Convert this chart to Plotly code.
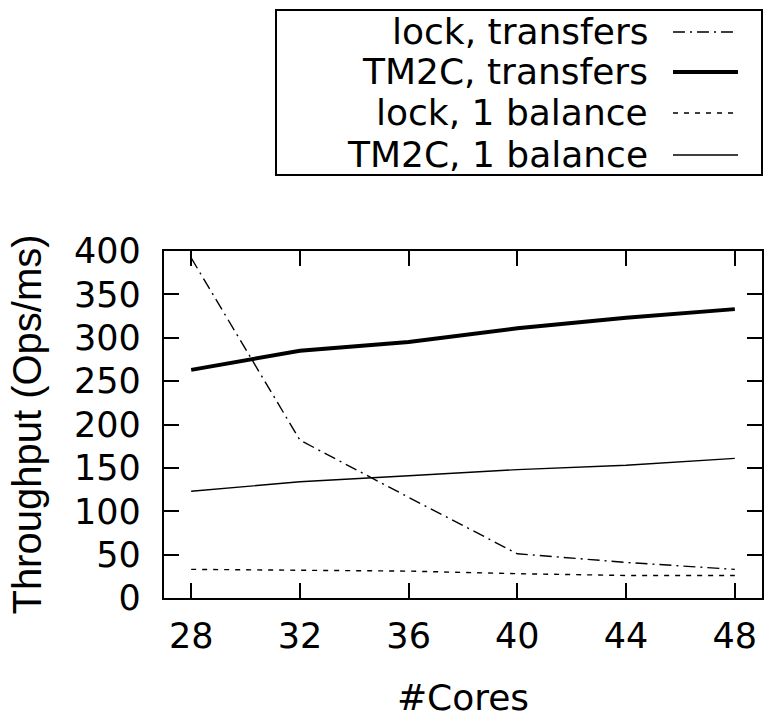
import plotly.graph_objects as go

cores = [28, 32, 36, 40, 44, 48]
lock_transfers = [392, 182, 116, 51, 41, 33]
tm2c_transfers = [263, 285, 295, 311, 323, 333]
lock_balance = [33, 32, 31, 28, 26, 26]
tm2c_balance = [123, 134, 141, 148, 153, 161]
series_names = ["lock, transfers", "TM2C, transfers", "lock, 1 balance", "TM2C, 1 balance"]
x_ticks = [28, 32, 36, 40, 44, 48]
y_ticks = [0, 50, 100, 150, 200, 250, 300, 350, 400]

styles = [
    dict(color="black", width=1.4, dash="12px,5px,2px,5px"),
    dict(color="black", width=4, dash="solid"),
    dict(color="black", width=1.4, dash="5px,6px"),
    dict(color="black", width=1.4, dash="solid"),
]
data = [lock_transfers, tm2c_transfers, lock_balance, tm2c_balance]

WIDE = "DejaVu Sans, sans-serif"
NARROW = "Liberation Sans, Arial, sans-serif"
fig = go.Figure()
for name, ys, st in zip(series_names, data, styles):
    fig.add_trace(go.Scatter(x=cores, y=ys, mode="lines", name=name, line=st, showlegend=False))

W, H = 764, 718
ml, mr, mt, mb = 164, 2, 251, 120

def px_x(x):
    return (x - ml) / (W - ml - mr)

def px_y(y):
    return (H - mb - y) / (H - mt - mb)

# custom legend: right-aligned labels with line samples on the right
fig.add_shape(type="rect", xref="paper", yref="paper",
              x0=px_x(276), x1=px_x(762), y0=px_y(175), y1=px_y(10),
              line=dict(color="black", width=2), fillcolor="white")
rows = [32, 72, 113, 155]
for name, st, ry in zip(series_names, styles, rows):
    fig.add_annotation(xref="paper", yref="paper", x=px_x(650), y=px_y(ry - 1),
                       text=name, showarrow=False, xanchor="right", yanchor="middle",
                       font=dict(family=WIDE, size=36, color="black"))
    fig.add_shape(type="line", xref="paper", yref="paper",
                  x0=px_x(673), x1=px_x(738), y0=px_y(ry), y1=px_y(ry),
                  line=st)

axis_common = dict(
    showline=True, linecolor="black", linewidth=2.2, mirror="ticks",
    ticks="inside", tickcolor="black", ticklen=15, tickwidth=2,
    showgrid=False, zeroline=False, automargin=False,
    tickfont=dict(family=WIDE, size=35, color="black"),
)
fig.update_xaxes(range=[27, 49], tickvals=x_ticks, ticklabelstandoff=6,
                 title=dict(text="#Cores", font=dict(family=WIDE, size=36, color="black"), standoff=38),
                 **axis_common)
fig.update_yaxes(range=[0, 400], tickvals=y_ticks, ticklabelstandoff=14,
                 title=dict(text="Throughput (Ops/ms)", font=dict(family=NARROW, size=40, color="black"), standoff=20),
                 **axis_common)

fig.update_layout(
    width=W, height=H,
    margin=dict(l=ml, r=mr, t=mt, b=mb),
    plot_bgcolor="white", paper_bgcolor="white",
    showlegend=False,
)
fig.write_html("out.html", config={"displayModeBar": False, "staticPlot": True},
               post_script="document.body.style.margin='0';document.body.style.overflow='hidden';")
